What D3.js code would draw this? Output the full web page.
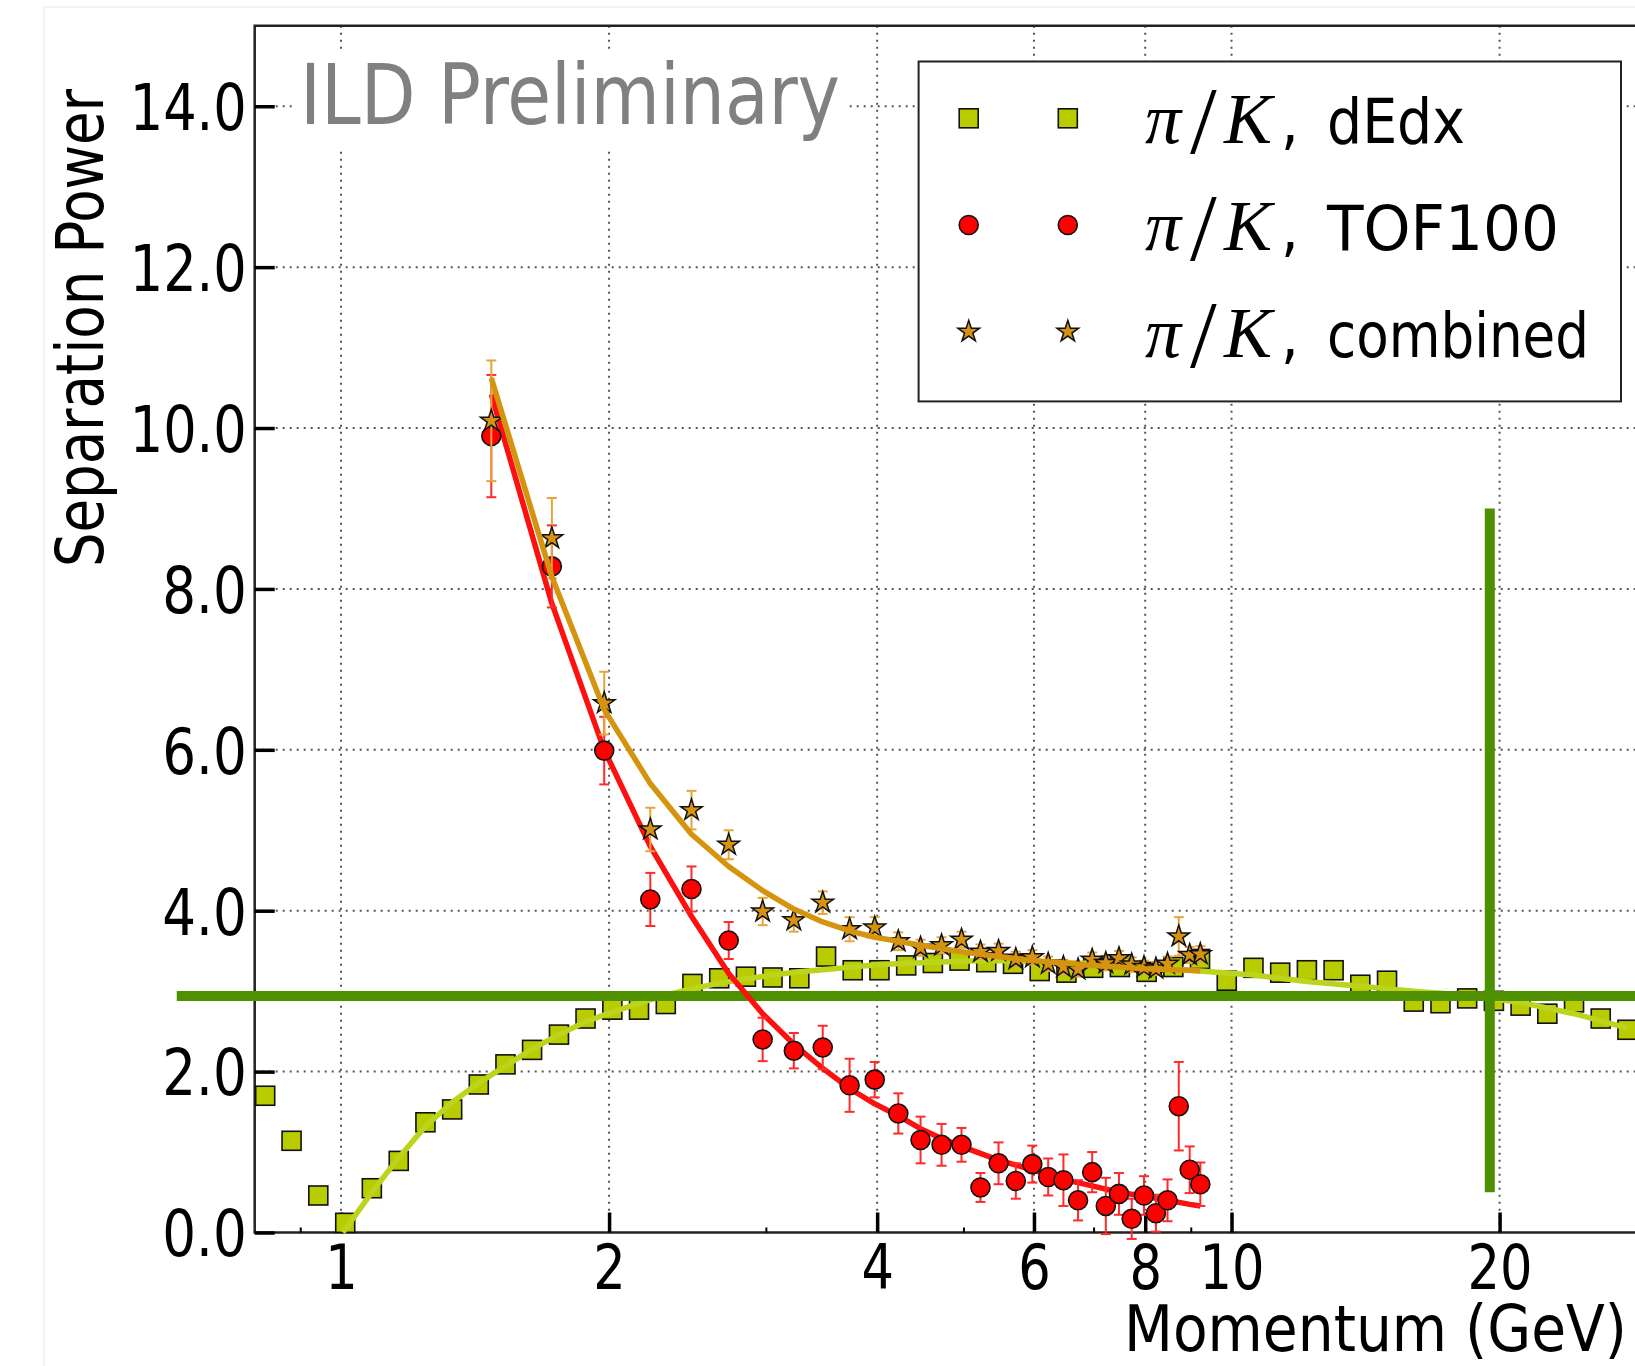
<!DOCTYPE html>
<html>
<head>
<meta charset="utf-8">
<script src="https://cdn.jsdelivr.net/npm/d3@7"></script>
<style>
  html, body { margin: 0; padding: 0; background: #fff; }
  svg { display: block; }
  .sans { font-family: "DejaVu Sans Condensed", "DejaVu Sans", sans-serif; font-stretch: condensed; }
  .math { font-family: "Liberation Serif", "DejaVu Serif", serif; }
</style>
</head>
<body>
<svg id="chart" width="1635" height="1366"></svg>
<script>
// ---- dE/dx separation (log-spaced momentum bins) ----
const dedxMomentum = [0.822, 0.880, 0.943, 1.011, 1.083, 1.161, 1.244, 1.333, 1.428, 1.530,
  1.639, 1.757, 1.882, 2.017, 2.161, 2.316, 2.481, 2.659, 2.849, 3.052,
  3.271, 3.505, 3.755, 4.024, 4.312, 4.620, 4.950, 5.304, 5.684, 6.090,
  6.526, 6.993, 7.493, 8.029, 8.603, 9.218, 9.878, 10.584, 11.341, 12.152,
  13.021, 13.952, 14.950, 16.019, 17.165, 18.392, 19.708, 21.117, 22.627, 24.245,
  25.979, 27.837];
const dedxPower = [1.70, 1.14, 0.46, 0.12, 0.55, 0.89, 1.37, 1.53, 1.84, 2.09,
  2.27, 2.46, 2.66, 2.77, 2.77, 2.84, 3.09, 3.16, 3.18, 3.17,
  3.16, 3.43, 3.26, 3.26, 3.32, 3.35, 3.38, 3.36, 3.34, 3.25,
  3.23, 3.29, 3.30, 3.24, 3.30, 3.40, 3.13, 3.29, 3.23, 3.26,
  3.26, 3.08, 3.13, 2.87, 2.85, 2.91, 2.88, 2.82, 2.72, 2.86,
  2.66, 2.52];
const dedxFitMomentum = [1.005, 1.083, 1.161, 1.244, 1.333, 1.428, 1.530, 1.639, 1.757, 1.882,
  2.017, 2.161, 2.316, 2.481, 2.659, 2.849, 3.052, 3.271, 3.505, 3.755,
  4.024, 4.620, 5.304, 6.090, 6.993, 8.029, 9.218, 10.584, 12.152, 13.952,
  16.019, 18.392, 21.117, 24.245, 27.837];
const dedxFitPower = [0.00, 0.50, 0.93, 1.32, 1.62, 1.86, 2.07, 2.28, 2.46, 2.62,
  2.74, 2.85, 2.95, 3.03, 3.10, 3.15, 3.20, 3.24, 3.27, 3.30,
  3.33, 3.36, 3.38, 3.37, 3.34, 3.30, 3.25, 3.20, 3.12, 3.06,
  3.00, 2.95, 2.86, 2.72, 2.54];

// ---- TOF and combined separation (0.25 GeV bins) ----
const binMomentum = [1.475, 1.725, 1.975, 2.225, 2.475, 2.725, 2.975, 3.225, 3.475, 3.725,
  3.975, 4.225, 4.475, 4.725, 4.975, 5.225, 5.475, 5.725, 5.975, 6.225,
  6.475, 6.725, 6.975, 7.225, 7.475, 7.725, 7.975, 8.225, 8.475, 8.725,
  8.975, 9.225];
const tofPower = [9.90, 8.28, 5.99, 4.14, 4.27, 3.63, 2.40, 2.26, 2.30, 1.83,
  1.90, 1.48, 1.15, 1.09, 1.09, 0.56, 0.86, 0.64, 0.85, 0.69,
  0.65, 0.40, 0.75, 0.33, 0.48, 0.17, 0.46, 0.24, 0.40, 1.57,
  0.78, 0.60];
const tofError = [0.76, 0.51, 0.42, 0.33, 0.28, 0.23, 0.27, 0.22, 0.27, 0.33,
  0.22, 0.25, 0.29, 0.26, 0.21, 0.18, 0.26, 0.22, 0.23, 0.23,
  0.32, 0.25, 0.25, 0.35, 0.26, 0.25, 0.24, 0.23, 0.26, 0.55,
  0.29, 0.27];
const combPower = [10.09, 8.63, 6.58, 5.01, 5.25, 4.82, 3.99, 3.88, 4.10, 3.77,
  3.79, 3.62, 3.54, 3.57, 3.64, 3.49, 3.50, 3.40, 3.42, 3.34,
  3.30, 3.27, 3.39, 3.35, 3.41, 3.33, 3.30, 3.28, 3.34, 3.68,
  3.45, 3.46];
const combError = [0.75, 0.50, 0.39, 0.27, 0.24, 0.18, 0.17, 0.14, 0.14, 0.15,
  0.13, 0.11, 0.10, 0.10, 0.10, 0.09, 0.09, 0.09, 0.09, 0.09,
  0.09, 0.09, 0.09, 0.09, 0.09, 0.09, 0.08, 0.08, 0.09, 0.24,
  0.10, 0.10];

const tofFitMomentum = [1.475, 1.725, 1.975, 2.225, 2.475, 2.725, 2.975, 3.225, 3.475, 3.725,
  3.975, 4.225, 4.475, 4.725, 4.975, 5.475, 5.975, 6.475, 6.975, 7.475,
  7.975, 8.475, 8.975, 9.225];
const tofFitPower = [10.42, 7.82, 6.00, 4.80, 3.93, 3.22, 2.72, 2.34, 2.04, 1.79,
  1.60, 1.45, 1.29, 1.17, 1.07, 0.90, 0.78, 0.66, 0.58, 0.50,
  0.45, 0.40, 0.35, 0.33];
const combFitMomentum = [1.475, 1.725, 1.975, 2.225, 2.475, 2.725, 2.975, 3.225, 3.475, 3.725,
  3.975, 4.225, 4.475, 4.975, 5.475, 5.975, 6.475, 6.975, 7.475, 7.975,
  8.475, 8.975, 9.225];
const combFitPower = [10.62, 8.15, 6.50, 5.58, 4.95, 4.55, 4.25, 4.02, 3.86, 3.75,
  3.67, 3.62, 3.57, 3.49, 3.43, 3.38, 3.35, 3.32, 3.30, 3.28,
  3.27, 3.26, 3.25];

// ---- reference lines: 3-sigma level and 20 GeV marker ----
const thresholdPower = 2.94;
const thresholdSpan = [0.654, 40];
const markerMomentum = 19.5;
const markerSpan = [0.5, 9.0];

// ---- ticks and labels ----
const yTicks = [0, 2, 4, 6, 8, 10, 12, 14];
const xMajorTicks = [1, 2, 4, 6, 8, 10, 20];
const xMinorTicks = [0.9, 3, 5, 7, 9, 30];
const legendLabels = ["dEdx", "TOF100", "combined"];

// ---- colours ----
const C = {
  dedx: "#b8cc00", dedxLine: "#bcd41c",
  tof: "#ff0000", tofBar: "#ff2a2a", tofLine: "#ff1010",
  comb: "#d69210", combBar: "#e6a53a", combLine: "#d4940e",
  guide: "#4f9000", grid: "#555", frame: "#222"
};

const svg = d3.select("#chart");
const W = 1635, H = 1366;
const plotLeft = 254.7, plotTop = 25.8, plotBottom = 1232.5;

const x = d3.scaleLog().domain([0.8, 30]).range([plotLeft, 1656.4]);
const y = d3.scaleLinear().domain([0, 15]).range([plotBottom, plotTop]);

svg.append("rect").attr("width", W).attr("height", H).attr("fill", "#fff");
// faint page edge
svg.append("path").attr("d", `M44,${H} V7 H${W}`).attr("fill", "none")
  .attr("stroke", "#efefef").attr("stroke-width", 1.5);

// grid
const grid = svg.append("g");
grid.selectAll(".gy").data(yTicks.filter(d => d > 0)).join("line")
  .attr("x1", plotLeft).attr("x2", W).attr("y1", d => y(d)).attr("y2", d => y(d))
  .attr("stroke", C.grid).attr("stroke-width", 2).attr("stroke-dasharray", "2,5");
grid.selectAll(".gx").data(xMajorTicks).join("line")
  .attr("x1", d => x(d)).attr("x2", d => x(d)).attr("y1", plotTop).attr("y2", plotBottom)
  .attr("stroke", C.grid).attr("stroke-width", 2).attr("stroke-dasharray", "2,5");

// watermark with white box
svg.append("rect").attr("x", 292).attr("y", 50).attr("width", 553).attr("height", 98).attr("fill", "#fff");
svg.append("text").attr("class", "sans").attr("x", 300).attr("y", 124)
  .attr("font-size", 84).attr("fill", "#808080")
  .attr("textLength", 540).attr("lengthAdjust", "spacingAndGlyphs")
  .text("ILD Preliminary");

// frame
svg.append("path").attr("d", `M${W + 30},${plotTop} H${plotLeft} V${plotBottom} H${W + 30}`)
  .attr("fill", "none").attr("stroke", C.frame).attr("stroke-width", 2.5);

// axes
const labelWidth = s => [...s].reduce((a, ch) => a + (ch === "." ? 19.5 : 32.5), 0);

const gy = svg.append("g").attr("transform", `translate(${plotLeft},0)`)
  .call(d3.axisLeft(y).tickValues(yTicks).tickFormat(d3.format(".1f"))
    .tickSizeInner(-20).tickSizeOuter(0).tickPadding(8));
gy.select(".domain").remove();
gy.selectAll(".tick line").attr("stroke", "#000").attr("stroke-width", 3.5);
gy.selectAll(".tick text").attr("class", "sans").attr("font-size", 64).attr("fill", "#000")
  .attr("dy", "0.365em")
  .attr("textLength", function () { return labelWidth(this.textContent); })
  .attr("lengthAdjust", "spacingAndGlyphs");

const gx = svg.append("g").attr("transform", `translate(0,${plotBottom})`)
  .call(d3.axisBottom(x).tickValues(xMajorTicks).tickFormat(d3.format("d"))
    .tickSizeInner(-20).tickSizeOuter(0).tickPadding(12));
gx.select(".domain").remove();
gx.selectAll(".tick line").attr("stroke", "#000").attr("stroke-width", 3.5);
gx.selectAll(".tick text").attr("class", "sans").attr("font-size", 62).attr("fill", "#000")
  .attr("textLength", function () { return labelWidth(this.textContent); })
  .attr("lengthAdjust", "spacingAndGlyphs");

const gxm = svg.append("g").attr("transform", `translate(0,${plotBottom})`)
  .call(d3.axisBottom(x).tickValues(xMinorTicks).tickFormat("")
    .tickSizeInner(-5).tickSizeOuter(0));
gxm.select(".domain").remove();
gxm.selectAll(".tick line").attr("stroke", "#000").attr("stroke-width", 2);

// axis titles
svg.append("text").attr("class", "sans")
  .attr("transform", `translate(103,328) rotate(-90)`)
  .attr("text-anchor", "middle").attr("font-size", 66).attr("fill", "#000")
  .attr("textLength", 478).attr("lengthAdjust", "spacingAndGlyphs")
  .text("Separation Power");
svg.append("text").attr("class", "sans").attr("x", 1124).attr("y", 1351)
  .attr("font-size", 64).attr("fill", "#000")
  .attr("textLength", 503).attr("lengthAdjust", "spacingAndGlyphs")
  .text("Momentum (GeV)");

const line = d3.line().x(d => x(d[0])).y(d => y(d[1]));
const zip = (a, b) => a.map((v, i) => [v, b[i]]);

const starPath = d3.symbol(d3.symbolStar).size(145)();
const sq = 19;

// dE/dx squares and fit
const dedx = zip(dedxMomentum, dedxPower);
svg.append("g").selectAll("rect").data(dedx).join("rect")
  .attr("x", d => x(d[0]) - sq / 2).attr("y", d => y(d[1]) - sq / 2)
  .attr("width", sq).attr("height", sq)
  .attr("fill", C.dedx).attr("stroke", "#111").attr("stroke-width", 1.6);
svg.append("path").datum(zip(dedxFitMomentum, dedxFitPower)).attr("d", line)
  .attr("fill", "none").attr("stroke", C.dedxLine).attr("stroke-width", 5.5)
  .attr("stroke-linejoin", "round");

// reference lines
svg.append("line")
  .attr("x1", x(thresholdSpan[0])).attr("x2", x(thresholdSpan[1]))
  .attr("y1", y(thresholdPower)).attr("y2", y(thresholdPower))
  .attr("stroke", C.guide).attr("stroke-width", 10);
svg.append("line")
  .attr("x1", x(markerMomentum)).attr("x2", x(markerMomentum))
  .attr("y1", y(markerSpan[0])).attr("y2", y(markerSpan[1]))
  .attr("stroke", C.guide).attr("stroke-width", 10);

// error bars helper
function errorBars(g, p, v, e, color) {
  const data = p.map((m, i) => ({ m, v: v[i], e: e[i] }));
  const cap = 5;
  const eb = g.append("g").attr("stroke", color).attr("stroke-width", 2);
  eb.selectAll(".v").data(data).join("line")
    .attr("x1", d => x(d.m)).attr("x2", d => x(d.m))
    .attr("y1", d => y(d.v - d.e)).attr("y2", d => y(d.v + d.e));
  eb.selectAll(".t").data(data).join("line")
    .attr("x1", d => x(d.m) - cap).attr("x2", d => x(d.m) + cap)
    .attr("y1", d => y(d.v + d.e)).attr("y2", d => y(d.v + d.e));
  eb.selectAll(".b").data(data).join("line")
    .attr("x1", d => x(d.m) - cap).attr("x2", d => x(d.m) + cap)
    .attr("y1", d => y(d.v - d.e)).attr("y2", d => y(d.v - d.e));
}

// TOF
const gTof = svg.append("g");
gTof.append("path").datum(zip(tofFitMomentum, tofFitPower)).attr("d", line)
  .attr("fill", "none").attr("stroke", C.tofLine).attr("stroke-width", 5.5)
  .attr("stroke-linejoin", "round");
errorBars(gTof, binMomentum, tofPower, tofError, C.tofBar);
gTof.append("g").selectAll("circle").data(zip(binMomentum, tofPower)).join("circle")
  .attr("cx", d => x(d[0])).attr("cy", d => y(d[1])).attr("r", 9.5)
  .attr("fill", C.tof).attr("stroke", "#111").attr("stroke-width", 1.6);

// combined
const gComb = svg.append("g");
errorBars(gComb, binMomentum, combPower, combError, C.combBar);
gComb.append("g").selectAll("path").data(zip(binMomentum, combPower)).join("path")
  .attr("d", starPath)
  .attr("transform", d => `translate(${x(d[0])},${y(d[1])})`)
  .attr("fill", C.comb).attr("stroke", "#111").attr("stroke-width", 1.5);
gComb.append("path").datum(zip(combFitMomentum, combFitPower)).attr("d", line)
  .attr("fill", "none").attr("stroke", C.combLine).attr("stroke-width", 5.5)
  .attr("stroke-linejoin", "round");

// legend
const lg = svg.append("g");
lg.append("rect").attr("x", 918.6).attr("y", 61.5).attr("width", 702.4).attr("height", 339.9)
  .attr("fill", "#fff").attr("stroke", C.frame).attr("stroke-width", 2);
const rowY = [118.3, 225, 331.7];
const markX = [968.7, 1067.8];
const wordWidth = [138, 232, 262];
legendLabels.forEach((lab, i) => {
  const cy = rowY[i];
  markX.forEach(mx => {
    if (i === 0) {
      lg.append("rect").attr("x", mx - sq / 2).attr("y", cy - sq / 2).attr("width", sq).attr("height", sq)
        .attr("fill", C.dedx).attr("stroke", "#111").attr("stroke-width", 1.6);
    } else if (i === 1) {
      lg.append("circle").attr("cx", mx).attr("cy", cy).attr("r", 9.5)
        .attr("fill", C.tof).attr("stroke", "#111").attr("stroke-width", 1.6);
    } else {
      lg.append("path").attr("d", starPath).attr("transform", `translate(${mx},${cy})`)
        .attr("fill", C.comb).attr("stroke", "#111").attr("stroke-width", 1.5);
    }
  });
  const base = cy + 25;
  lg.append("text").attr("class", "math").attr("x", 1145).attr("y", base)
    .attr("font-size", 72).attr("font-style", "italic").text("π");
  lg.append("text").attr("class", "math").attr("x", 1190).attr("y", base + 10)
    .attr("font-size", 96).text("/");
  lg.append("text").attr("class", "math").attr("x", 1224).attr("y", base)
    .attr("font-size", 72).attr("font-style", "italic").text("K");
  lg.append("text").attr("class", "sans").attr("x", 1281).attr("y", base)
    .attr("font-size", 62).text(",");
  lg.append("text").attr("class", "sans").attr("x", 1327).attr("y", base)
    .attr("font-size", 62)
    .attr("textLength", wordWidth[i]).attr("lengthAdjust", "spacingAndGlyphs")
    .text(lab);
});
</script>
</body>
</html>
